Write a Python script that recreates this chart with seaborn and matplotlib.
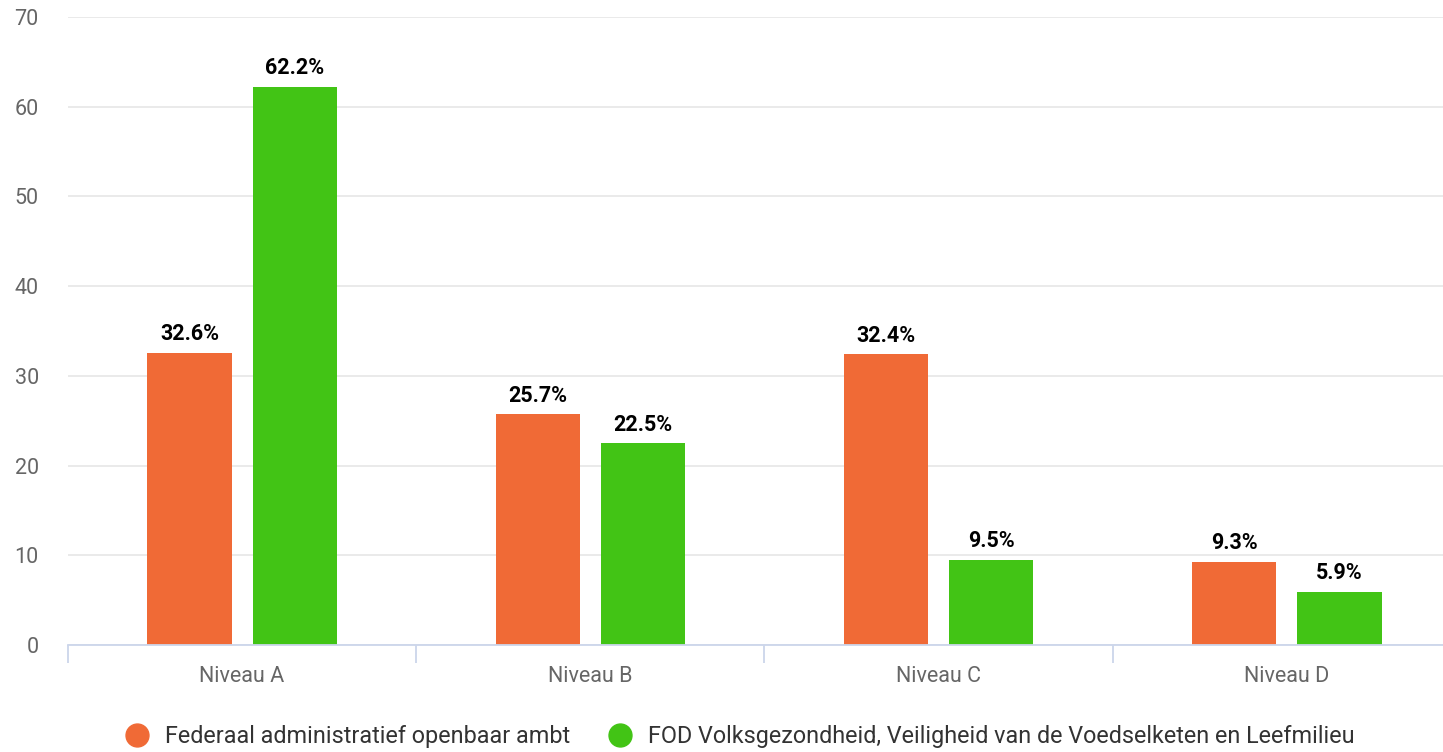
import seaborn as sns
import pandas as pd
import matplotlib.pyplot as plt
from matplotlib.lines import Line2D

levels = ["Niveau A", "Niveau B", "Niveau C", "Niveau D"]
series_names = ["Federaal administratief openbaar ambt",
                "FOD Volksgezondheid, Veiligheid van de Voedselketen en Leefmilieu"]
federaal = [32.6, 25.7, 32.4, 9.3]
fod = [62.2, 22.5, 9.5, 5.9]
colors = ["#F06A36", "#42C415"]


def draw_chart():
    df = pd.DataFrame({
        "Niveau": levels * 2,
        "Reeks": [series_names[0]] * 4 + [series_names[1]] * 4,
        "Waarde": federaal + fod,
    })

    sns.set_style("white")
    plt.rcParams['font.family'] = ['Roboto', 'DejaVu Sans']

    fig = plt.figure(figsize=(14.43, 7.52), dpi=100)
    ax = fig.add_axes([68 / 1443, 107 / 752, (1461 - 68) / 1443, (645 - 17) / 752])

    sns.barplot(data=df, x="Niveau", y="Waarde", hue="Reeks", order=levels,
                hue_order=series_names, palette=colors, width=0.604, gap=0.2,
                legend=False, ax=ax, saturation=1, errorbar=None, linewidth=0)

    for cont in ax.containers:
        ax.bar_label(cont, labels=[f"{v:.1f}%" for v in cont.datavalues],
                     padding=5.5, fontsize=15.5, fontweight="bold", color="black")

    ax.set_xlim(-0.5, 3.5)
    ax.set_ylim(0, 70)
    ax.set_yticks(range(0, 71, 10))
    ax.yaxis.grid(True, color="#e6e6e6", linewidth=1.2)
    ax.set_axisbelow(True)
    for s in ["top", "right", "left"]:
        ax.spines[s].set_visible(False)
    ax.spines["bottom"].set_color("#ccd6eb")
    ax.spines["bottom"].set_linewidth(1.3)

    ax.set_xticks([-0.5, 0.5, 1.5, 2.5, 3.5], minor=True)
    ax.tick_params(axis="x", which="minor", length=13, width=1.3, color="#ccd6eb", bottom=True)
    ax.tick_params(axis="x", which="major", length=0, pad=15, labelsize=15.5, labelcolor="#666666")
    ax.tick_params(axis="y", length=0, pad=21, labelsize=15.5, labelcolor="#666666")
    ax.set_xlabel("")
    ax.set_ylabel("")

    handles = [Line2D([], [], marker="o", linestyle="", markersize=16.5,
                      markerfacecolor=c, markeredgecolor=c) for c in colors]
    fig.legend(handles, series_names, loc="lower center", bbox_to_anchor=(0.512, -0.023),
               ncol=2, frameon=False, fontsize=16.8, labelcolor="#333333",
               handlelength=1.2, handletextpad=0.6, columnspacing=1.55)

    fig.savefig("out.png", dpi=100)


if __name__ == "__main__":
    draw_chart()
